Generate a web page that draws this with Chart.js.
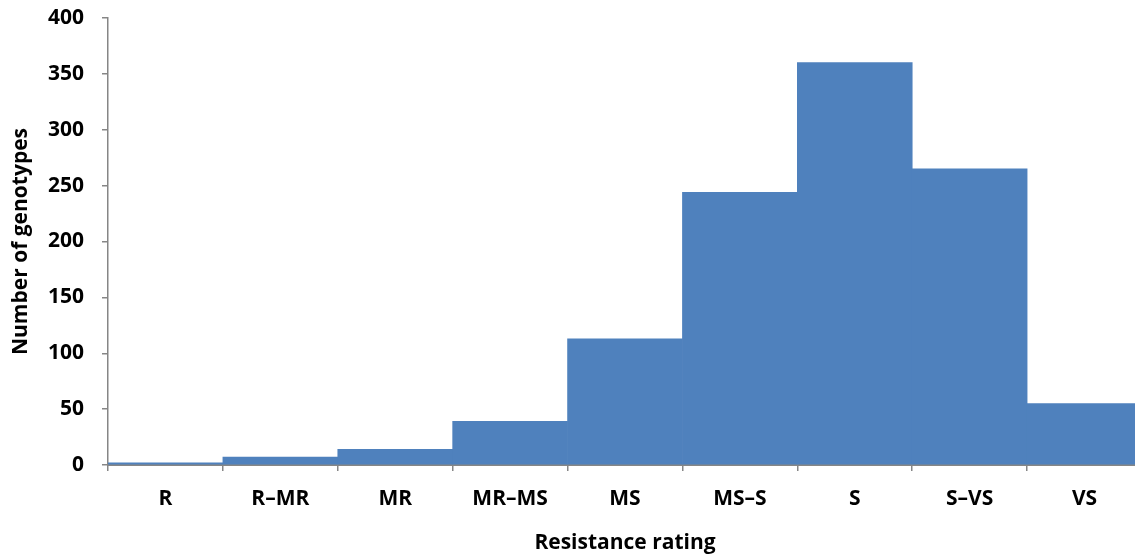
<!DOCTYPE html>
<html>
<head>
<meta charset="utf-8">
<script src="https://cdn.jsdelivr.net/npm/chart.js@4.4.1/dist/chart.umd.min.js"></script>
<style>
  html, body { margin: 0; padding: 0; background: #ffffff; overflow: hidden; }
  #wrap { width: 1142px; height: 556px; }
</style>
</head>
<body>
<div id="wrap"><canvas id="c" width="1142" height="556"></canvas></div>
<script>
// Resistance rating classes and genotype counts
const ratings = ['R', 'R\u2013MR', 'MR', 'MR\u2013MS', 'MS', 'MS\u2013S', 'S', 'S\u2013VS', 'VS'];
const genotypeCounts = [2, 7, 14, 39, 113, 244, 360, 265, 55];
const yTicks = [0, 50, 100, 150, 200, 250, 300, 350, 400];

const axisGrey = '#868686';
const fontFamily = '"Open Sans", sans-serif';
const labelFont = { family: fontFamily, size: 21, weight: '700' };

new Chart(document.getElementById('c'), {
  type: 'bar',
  data: {
    labels: ratings,
    datasets: [{
      data: genotypeCounts,
      backgroundColor: '#4F81BD',
      borderWidth: 0,
      categoryPercentage: 1.0,
      barPercentage: 1.0
    }]
  },
  options: {
    responsive: false,
    animation: false,
    layout: { padding: { top: 18, right: 0, bottom: 0, left: 0 } },
    plugins: { legend: { display: false }, tooltip: { enabled: false } },
    scales: {
      x: {
        offset: true,
        grid: {
          offset: true,
          drawOnChartArea: false,
          drawTicks: true,
          tickLength: 6,
          color: axisGrey,
          lineWidth: 1.5
        },
        border: { color: axisGrey, width: 2 },
        ticks: {
          color: '#000000',
          padding: 15,
          maxRotation: 0,
          font: labelFont
        },
        title: {
          display: true,
          text: 'Resistance rating',
          color: '#000000',
          padding: { top: 1, bottom: 0 },
          font: labelFont
        },
        afterFit: (s) => { s.height = 91; s.paddingLeft = 0; s.paddingRight = 0; }
      },
      y: {
        min: 0,
        max: 400,
        afterBuildTicks: (s) => { s.ticks = yTicks.map(v => ({ value: v })); },
        grid: {
          drawOnChartArea: false,
          drawTicks: true,
          tickLength: 6,
          color: axisGrey,
          lineWidth: 1.5
        },
        border: { color: axisGrey, width: 1.5 },
        ticks: {
          color: '#000000',
          padding: 18,
          font: labelFont
        },
        title: {
          display: true,
          text: 'Number of genotypes',
          color: '#000000',
          padding: { top: 8, bottom: 0 },
          font: labelFont
        },
        afterFit: (s) => { s.width = 108; s.paddingTop = 0; s.paddingBottom = 0; }
      }
    }
  }
});
</script>
</body>
</html>
